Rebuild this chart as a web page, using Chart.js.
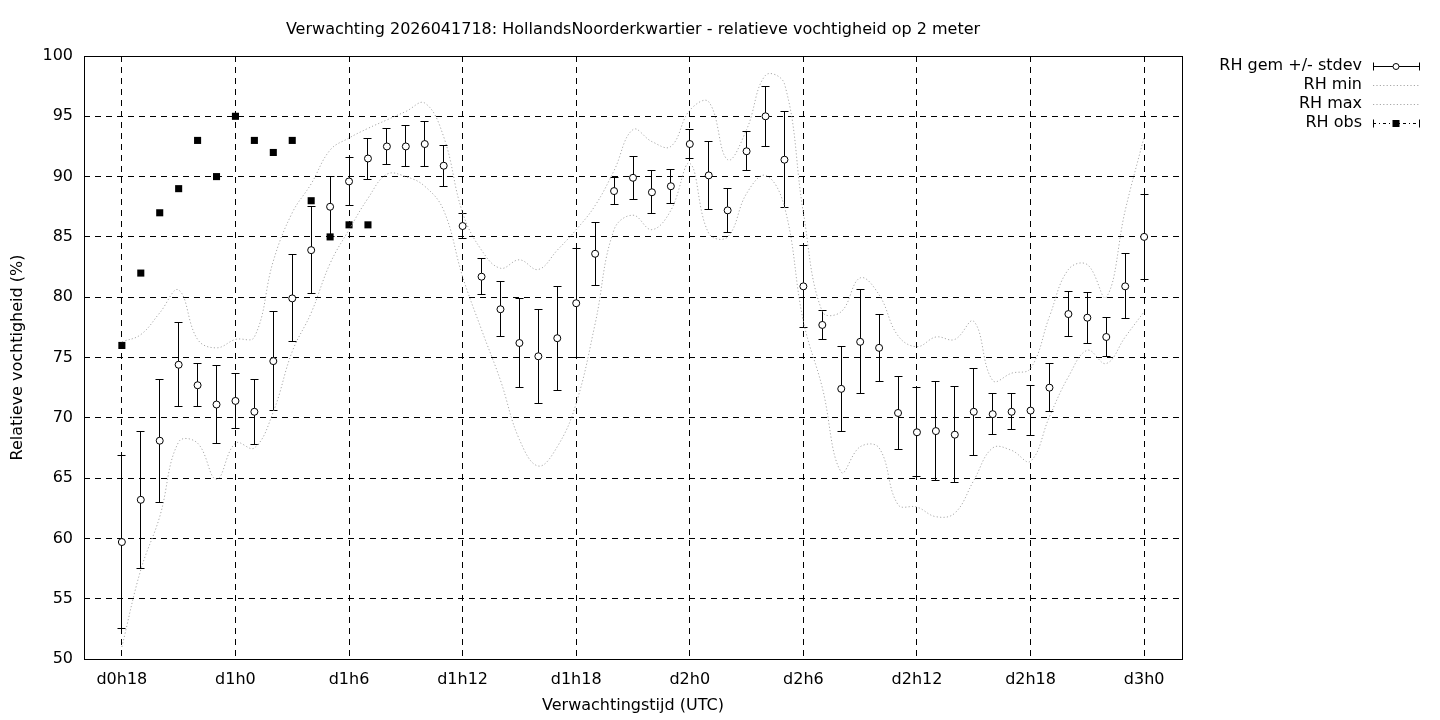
<!DOCTYPE html>
<html lang="nl">
<head>
<meta charset="utf-8">
<title>Verwachting relatieve vochtigheid</title>
<script src="https://cdn.jsdelivr.net/npm/chart.js@4.4.1/dist/chart.umd.min.js"></script>
<style>
    html, body { margin: 0; padding: 0; background: #fff; }
    #wrap { width: 1440px; height: 720px; }
</style>
</head>
<body>
<div id="wrap"><canvas id="grafiek" width="1440" height="720"></canvas></div>
<script>
// --- DATA ---
// uren na d0h18
const uren = [0, 1, 2, 3, 4, 5, 6, 7, 8, 9, 10, 11, 12, 13, 14, 15, 16, 17, 18, 19,
    20, 21, 22, 23, 24, 25, 26, 27, 28, 29, 30, 31, 32, 33, 34, 35, 36, 37, 38, 39,
    40, 41, 42, 43, 44, 45, 46, 47, 48, 49, 50, 51, 52, 53, 54];

const rhGem = [59.7, 63.2, 68.1, 74.4, 72.7, 71.1, 71.4, 70.5, 74.7, 79.9,
    83.9, 87.5, 89.6, 91.5, 92.5, 92.5, 92.7, 90.9, 85.9, 81.7,
    79.0, 76.2, 75.1, 76.6, 79.5, 83.6, 88.8, 89.9, 88.7, 89.2,
    92.7, 90.1, 87.2, 92.1, 95.0, 91.4, 80.9, 77.7, 72.4, 76.3,
    75.8, 70.4, 68.8, 68.9, 68.6, 70.5, 70.3, 70.5, 70.6, 72.5,
    78.6, 78.3, 76.7, 80.9, 85.0];

const rhStdev = [7.2, 5.7, 5.1, 3.5, 1.8, 3.2, 2.3, 2.7, 4.1, 3.6,
    3.6, 2.5, 2.0, 1.7, 1.5, 1.7, 1.9, 1.7, 1.0, 1.5,
    2.3, 3.7, 3.9, 4.3, 4.5, 2.6, 1.1, 1.8, 1.8, 1.4,
    1.2, 2.8, 1.8, 1.6, 2.5, 4.0, 3.4, 1.2, 3.5, 4.3,
    2.8, 3.0, 3.7, 4.1, 4.0, 3.6, 1.7, 1.5, 2.1, 2.0,
    1.9, 2.1, 1.6, 2.7, 3.5];

const rhMin = [51.0, 57.4, 61.8, 68.0, 67.9, 64.9, 67.9, 67.5, 70.5, 75.5,
    78.7, 82.8, 85.6, 88.2, 90.2, 90.0, 89.2, 87.2, 81.7, 77.3,
    73.1, 68.2, 66.0, 67.6, 71.2, 77.8, 85.6, 86.8, 85.6, 87.2,
    91.1, 85.3, 85.0, 88.6, 90.1, 87.5, 78.0, 72.5, 65.5, 67.6,
    67.5, 62.8, 62.6, 61.8, 62.1, 64.8, 67.5, 67.3, 66.4, 70.1,
    73.4, 75.6, 74.5, 76.7, 78.8];

const rhMax = [76.3, 76.9, 78.7, 80.6, 76.5, 75.8, 76.5, 76.7, 83.0, 87.0,
    89.4, 92.2, 93.2, 94.0, 94.7, 95.4, 96.1, 93.3, 87.0, 83.9,
    82.4, 83.1, 82.3, 83.9, 85.6, 87.6, 90.5, 93.9, 92.9, 92.5,
    95.5, 96.2, 91.4, 93.9, 98.4, 97.7, 87.0, 78.8, 78.8, 81.6,
    80.2, 76.8, 75.9, 76.7, 76.5, 78.0, 73.1, 73.7, 74.1, 78.4,
    82.3, 82.7, 80.0, 87.2, 93.3];

// waarnemingen, alleen de eerste uren
const obsUren = [0, 1, 2, 3, 4, 5, 6, 7, 8, 9, 10, 11, 12, 13];
const rhObs = [76, 82, 87, 89, 93, 90, 95, 93, 92, 93, 88, 85, 86, 86];

const tickUren = [0, 6, 12, 18, 24, 30, 36, 42, 48, 54];
const tickLabels = ['d0h18', 'd1h0', 'd1h6', 'd1h12', 'd1h18', 'd2h0', 'd2h6', 'd2h12', 'd2h18', 'd3h0'];
const yTicks = [50, 55, 60, 65, 70, 75, 80, 85, 90, 95, 100];

// --- STIJL ---
const lettertype = { family: 'DejaVu Sans', size: 16 };
const grijsStip = '#a8a8a8';
const stipPatroon = [1.2, 2.2];

function punten(xs, ys) {
    return xs.map((x, i) => ({ x, y: ys[i] }));
}

// zelfde afronding als de rasterlijnen van Chart.js
function lijnPixel(p) {
    return Math.round(p - 0.5) + 0.5;
}

// --- PLUGINS ---
// foutbalken onder de cirkels van het gemiddelde
const foutbalken = {
    id: 'foutbalken',
    beforeDatasetDraw(chart, args) {
        if (args.meta.label !== 'RH gem +/- stdev') return;
        const { ctx, scales: { x, y } } = chart;
        ctx.save();
        ctx.strokeStyle = '#000';
        ctx.lineWidth = 1;
        ctx.setLineDash([]);
        uren.forEach((u, i) => {
            const px = lijnPixel(x.getPixelForValue(u));
            const boven = lijnPixel(y.getPixelForValue(rhGem[i] + rhStdev[i]));
            const onder = lijnPixel(y.getPixelForValue(rhGem[i] - rhStdev[i]));
            ctx.beginPath();
            ctx.moveTo(px, boven);
            ctx.lineTo(px, onder);
            ctx.moveTo(px - 4, boven);
            ctx.lineTo(px + 4, boven);
            ctx.moveTo(px - 4, onder);
            ctx.lineTo(px + 4, onder);
            ctx.stroke();
        });
        ctx.restore();
    }
};

// kader rond het plotgebied + legenda rechts
const kaderEnLegenda = {
    id: 'kaderEnLegenda',
    afterDraw(chart) {
        const { ctx, chartArea: a } = chart;
        ctx.save();
        ctx.setLineDash([]);
        ctx.strokeStyle = '#000';
        ctx.lineWidth = 1;
        ctx.strokeRect(lijnPixel(a.left), lijnPixel(a.top),
            Math.round(a.right - a.left), Math.round(a.bottom - a.top));

        ctx.font = lettertype.size + 'px "' + lettertype.family + '"';
        ctx.fillStyle = '#000';
        ctx.textAlign = 'right';
        ctx.textBaseline = 'middle';
        const tekstX = 1362, x0 = 1373, x1 = 1420, xm = 1396;
        const regels = ['RH gem +/- stdev', 'RH min', 'RH max', 'RH obs'];
        regels.forEach((t, i) => {
            const yy = 66 + i * 19;
            ctx.fillText(t, tekstX, yy);
            const ly = Math.round(yy) + 0.5;
            ctx.beginPath();
            if (i === 0 || i === 3) {
                ctx.strokeStyle = '#000';
                ctx.setLineDash(i === 3 ? [3, 3, 1, 3] : []);
                ctx.moveTo(x0, ly); ctx.lineTo(x1, ly);
                ctx.stroke();
                ctx.setLineDash([]);
                ctx.beginPath();
                ctx.moveTo(x0 + 0.5, ly - 4); ctx.lineTo(x0 + 0.5, ly + 4);
                ctx.moveTo(x1 - 0.5, ly - 4); ctx.lineTo(x1 - 0.5, ly + 4);
                ctx.stroke();
                ctx.beginPath();
                if (i === 0) {
                    ctx.arc(xm, ly, 3, 0, Math.PI * 2);
                    ctx.fillStyle = '#fff';
                    ctx.fill();
                    ctx.stroke();
                    ctx.fillStyle = '#000';
                } else {
                    ctx.fillRect(xm - 3.5, ly - 3.5, 7, 7);
                }
            } else {
                ctx.strokeStyle = grijsStip;
                ctx.setLineDash(stipPatroon);
                ctx.moveTo(x0, ly); ctx.lineTo(x1, ly);
                ctx.stroke();
                ctx.setLineDash([]);
            }
        });
        ctx.restore();
    }
};

// --- GRAFIEK ---
Chart.defaults.font.family = lettertype.family;
Chart.defaults.font.size = lettertype.size;
Chart.defaults.color = '#000';

new Chart(document.getElementById('grafiek'), {
    type: 'line',
    data: {
        datasets: [
            {
                label: 'RH min',
                data: punten(uren, rhMin),
                borderColor: grijsStip,
                borderWidth: 1,
                borderDash: stipPatroon,
                pointRadius: 0,
                tension: 0.4,
                fill: false
            },
            {
                label: 'RH max',
                data: punten(uren, rhMax),
                borderColor: grijsStip,
                borderWidth: 1,
                borderDash: stipPatroon,
                pointRadius: 0,
                tension: 0.4,
                fill: false
            },
            {
                label: 'RH gem +/- stdev',
                data: punten(uren, rhGem),
                showLine: false,
                pointStyle: 'circle',
                pointRadius: 3.5,
                pointBackgroundColor: '#fff',
                pointBorderColor: '#000',
                pointBorderWidth: 1
            },
            {
                label: 'RH obs',
                data: punten(obsUren, rhObs),
                showLine: false,
                pointStyle: 'rect',
                pointRadius: 5,
                pointBackgroundColor: '#000',
                pointBorderColor: '#000',
                pointBorderWidth: 0
            }
        ]
    },
    options: {
        responsive: false,
        animation: false,
        events: [],
        layout: { padding: { top: 0, right: 258, bottom: 0, left: 0 } },
        plugins: {
            legend: { display: false },
            tooltip: { enabled: false },
            title: {
                display: true,
                fullSize: false,
                text: 'Verwachting 2026041718: HollandsNoorderkwartier - relatieve vochtigheid op 2 meter',
                font: { family: lettertype.family, size: lettertype.size, weight: 'normal' },
                color: '#000',
                padding: { top: 20, bottom: 16.8 }
            }
        },
        scales: {
            x: {
                type: 'linear',
                min: -2,
                max: 56,
                afterBuildTicks: (s) => { s.ticks = tickUren.map(v => ({ value: v })); },
                afterFit: (s) => { s.height = 61; },
                ticks: {
                    autoSkip: false,
                    maxRotation: 0,
                    padding: 11,
                    callback: (v) => tickLabels[tickUren.indexOf(v)]
                },
                grid: { color: '#000', lineWidth: 1, drawTicks: false },
                border: { display: false, dash: [6, 5] },
                title: {
                    display: true,
                    text: 'Verwachtingstijd (UTC)',
                    padding: { top: 4, bottom: 4.4 }
                }
            },
            y: {
                min: 50,
                max: 100,
                afterBuildTicks: (s) => { s.ticks = yTicks.map(v => ({ value: v })); },
                afterFit: (s) => { s.width = 84; },
                ticks: { padding: 11 },
                grid: { color: '#000', lineWidth: 1, drawTicks: false },
                border: { display: false, dash: [6, 5] },
                title: {
                    display: true,
                    text: 'Relatieve vochtigheid (%)',
                    padding: { top: 8.4, bottom: 4 }
                }
            }
        }
    },
    plugins: [foutbalken, kaderEnLegenda]
});
</script>
</body>
</html>
